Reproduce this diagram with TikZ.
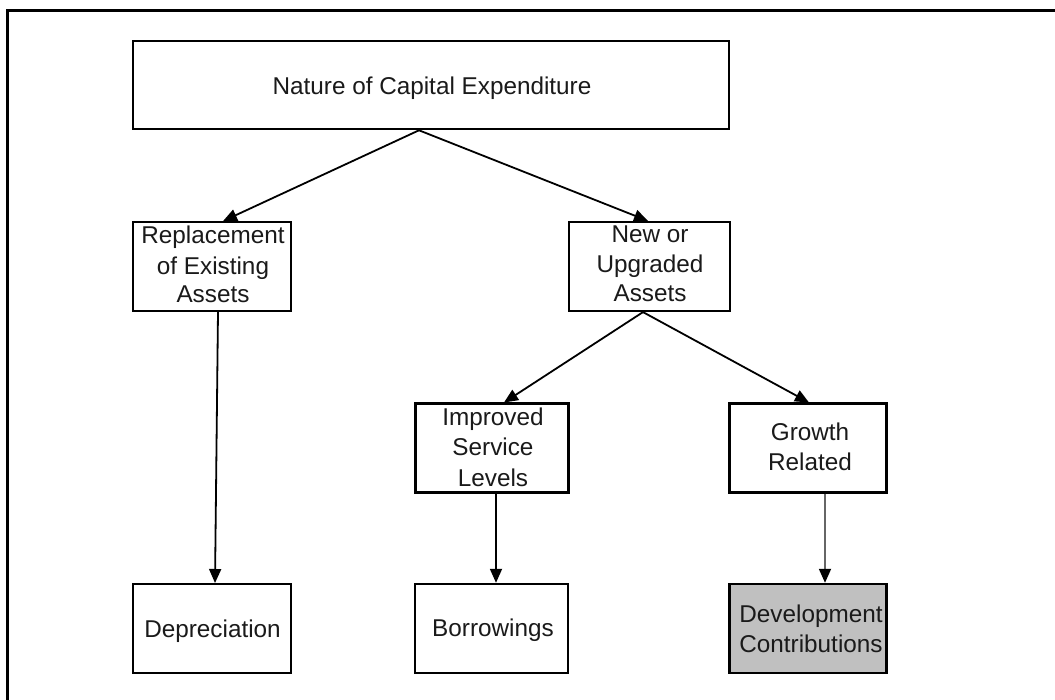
\documentclass[tikz,border=0pt]{standalone}
\usepackage{fontspec}
\setmainfont{Liberation Sans}
\usetikzlibrary{arrows.meta}
\definecolor{devgray}{HTML}{C0C0C0}
\definecolor{txtcol}{HTML}{1A1A1A}
\begin{document}
\begin{tikzpicture}[x=1pt,y=-1pt,
  box/.style={draw=black, line width=2pt, inner sep=0pt, fill=white},
  txt/.style={inner sep=0pt, anchor=base, text=txtcol, font=\fontsize{24.3}{29}\selectfont},
  link/.style={draw=black, line width=1.8pt, -{Triangle[length=14pt,width=12pt]}},
  graylink/.style={draw=black!60, line width=1.8pt, -{Triangle[length=14pt,width=12pt,color=black,fill=black]}}
]
\useasboundingbox (0,0) rectangle (1055,700);
% frame (top and left edges)
\draw[line width=3pt] (1056,10.5) -- (7.5,10.5) -- (7.5,701);

% boxes
\node[box, line width=2.6pt, minimum width=596pt, minimum height=88pt] (top) at (431,85) {};
\node[box, line width=1.8pt, minimum width=158pt, minimum height=89pt] (rep) at (212,266.5) {};
\node[box, line width=2.2pt, minimum width=161pt, minimum height=89pt] (newup) at (649.5,266.5) {};
\node[box, line width=3pt, minimum width=153pt, minimum height=88pt] (imp) at (491.5,448) {};
\node[box, line width=3pt, minimum width=157pt, minimum height=88pt] (gro) at (808,448) {};
\node[box, line width=2pt, minimum width=158pt, minimum height=89pt] (dep) at (212,628.5) {};
\node[box, line width=2.4pt, minimum width=153pt, minimum height=89pt] (bor) at (491.5,628.5) {};
\node[box, line width=2.4pt, fill=devgray, minimum width=157pt, minimum height=89pt] (dev) at (808,628.5) {};

% texts
\node[txt] (topt) at (432,95) {Nature of Capital Expenditure};
\node[txt] (rept1) at (213,244) {Replacement};
\node[txt] (rept2) at (213,274.5) {of Existing};
\node[txt] (rept3) at (213,303) {Assets};
\node[txt] (newt1) at (650,243) {New or};
\node[txt] (newt2) at (650,273) {Upgraded};
\node[txt] (newt3) at (650,302) {Assets};
\node[txt] (impt1) at (493,426) {Improved};
\node[txt] (impt2) at (493,456) {Service};
\node[txt] (impt3) at (493,486) {Levels};
\node[txt] (grot1) at (810,440) {Growth};
\node[txt] (grot2) at (810,470) {Related};
\node[txt] (dept) at (212.5,637) {Depreciation};
\node[txt] (bort) at (493,636) {Borrowings};
\node[txt] (devt1) at (811,622) {Development};
\node[txt] (devt2) at (811,652) {Contributions};

% connectors
\draw[link] ([xshift=-12pt]top.south) -- ([xshift=11pt]rep.north);
\draw[link] ([xshift=-12pt]top.south) -- ([xshift=-1.5pt]newup.north);
\draw[link] ([xshift=6pt]rep.south) -- ([xshift=3pt]dep.north);
\draw[link] ([xshift=-6.5pt]newup.south) -- ([xshift=12.5pt]imp.north);
\draw[link] ([xshift=-6.5pt]newup.south) -- ([xshift=1pt]gro.north);
\draw[link] ([xshift=4.5pt]imp.south) -- ([xshift=4.5pt]bor.north);
\draw[graylink] ([xshift=17pt]gro.south) -- ([xshift=17pt]dev.north);
\end{tikzpicture}
\end{document}
